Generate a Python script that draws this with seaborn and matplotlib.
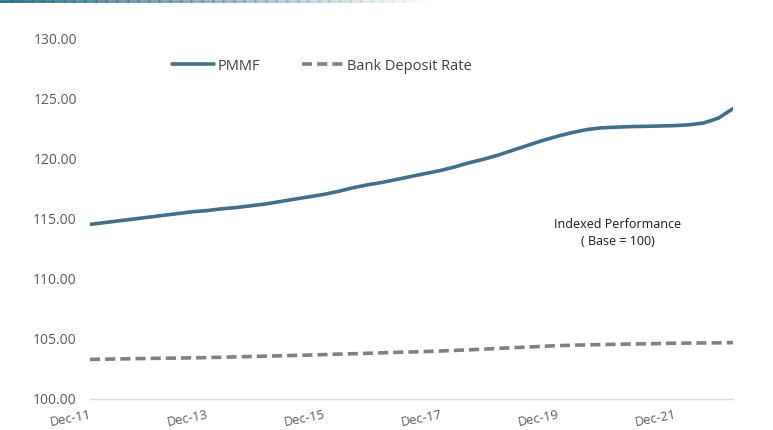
import pandas as pd
import numpy as np
import matplotlib
matplotlib.use('Agg')
import matplotlib.pyplot as plt
import matplotlib.dates as mdates
import seaborn as sns

# quarterly index values, Dec-11 .. Dec-22
quarters = pd.date_range('2011-12-31', periods=45, freq='QE')
pmmf = [114.55, 114.70, 114.85, 115.00, 115.15, 115.30, 115.45, 115.60, 115.70,
        115.85, 115.95, 116.10, 116.25, 116.45, 116.65, 116.85, 117.05, 117.30,
        117.60, 117.85, 118.05, 118.30, 118.55, 118.80, 119.05, 119.35, 119.70,
        120.00, 120.35, 120.75, 121.15, 121.55, 121.90, 122.20, 122.45, 122.60,
        122.65, 122.70, 122.72, 122.75, 122.78, 122.85, 123.00, 123.40, 124.20]
bank_deposit = [103.30, 103.32, 103.34, 103.36, 103.38, 103.40, 103.41, 103.43, 103.45,
                103.48, 103.51, 103.54, 103.57, 103.60, 103.63, 103.66, 103.70, 103.74,
                103.77, 103.81, 103.85, 103.89, 103.92, 103.96, 104.00, 104.05, 104.10,
                104.16, 104.22, 104.28, 104.33, 104.39, 104.45, 104.48, 104.51, 104.54,
                104.56, 104.58, 104.60, 104.62, 104.65, 104.66, 104.67, 104.68, 104.70]
tick_years = [2011, 2013, 2015, 2017, 2019, 2021]

df = pd.DataFrame({'Date': quarters, 'PMMF': pmmf, 'Bank Deposit Rate': bank_deposit})

sns.set_style('white')
plt.rcParams['font.family'] = ['Open Sans', 'DejaVu Sans']

fig = plt.figure(figsize=(7.73, 4.30), dpi=100)
ax = fig.add_axes([90 / 773, 1 - 399 / 430, (733 - 90) / 773, (399 - 39) / 430])

sns.lineplot(data=df, x='Date', y='PMMF', ax=ax, color='#41708D', linewidth=2.6, label='PMMF')
sns.lineplot(data=df, x='Date', y='Bank Deposit Rate', ax=ax, color='#808080', linewidth=2.6,
             label='Bank Deposit Rate', dashes=False)
ax.lines[1].set_dashes([2.8, 1.4])

ax.set_ylim(100, 130)
ax.set_yticks(np.arange(100, 131, 5))
ax.yaxis.set_major_formatter(matplotlib.ticker.FormatStrFormatter('%.2f'))
ax.set_xlim(quarters[0], quarters[-1])
ax.set_xticks([pd.Timestamp(f'{y}-12-31') for y in tick_years])
ax.xaxis.set_major_formatter(mdates.DateFormatter('%b-%y'))
ax.set_xlabel('')
ax.set_ylabel('')

for s in ['top', 'right', 'left']:
    ax.spines[s].set_visible(False)
ax.spines['bottom'].set_color('#D9D9D9')
ax.spines['bottom'].set_linewidth(1.0)
ax.tick_params(axis='y', length=0, pad=9.5, labelsize=10, labelcolor='#595959')
ax.tick_params(axis='x', direction='inout', length=6, color='#D9D9D9', pad=4,
               labelsize=9.3, labelcolor='#595959')
for lbl in ax.get_xticklabels():
    lbl.set_rotation(11)
    lbl.set_ha('right')
    lbl.set_rotation_mode('anchor')

leg = ax.legend(loc='center left', bbox_to_anchor=(172 / 773, 1 - 66 / 430), bbox_transform=fig.transFigure,
                ncol=2, frameon=False, fontsize=10.5, handlelength=2.9, handletextpad=0.2,
                columnspacing=2.9, borderpad=0, borderaxespad=0)
for t in leg.get_texts():
    t.set_color('#404040')

fig.text(618 / 773, 1 - 224 / 430, 'Indexed Performance', ha='center', va='center',
         fontsize=9, color='#1a1a1a', fontweight='medium')
fig.text(618 / 773, 1 - 241 / 430, '( Base = 100)', ha='center', va='center',
         fontsize=9, color='#1a1a1a', fontweight='medium')

# fading header rule along the top edge
n = 40
for i in range(n):
    fig.add_artist(plt.Line2D([i * 0.55 / n, (i + 1) * 0.55 / n], [0.997, 0.997],
                              transform=fig.transFigure, color='#2E6B8A',
                              alpha=1 - i / n, linewidth=2))

fig.savefig('out.png', dpi=100)
